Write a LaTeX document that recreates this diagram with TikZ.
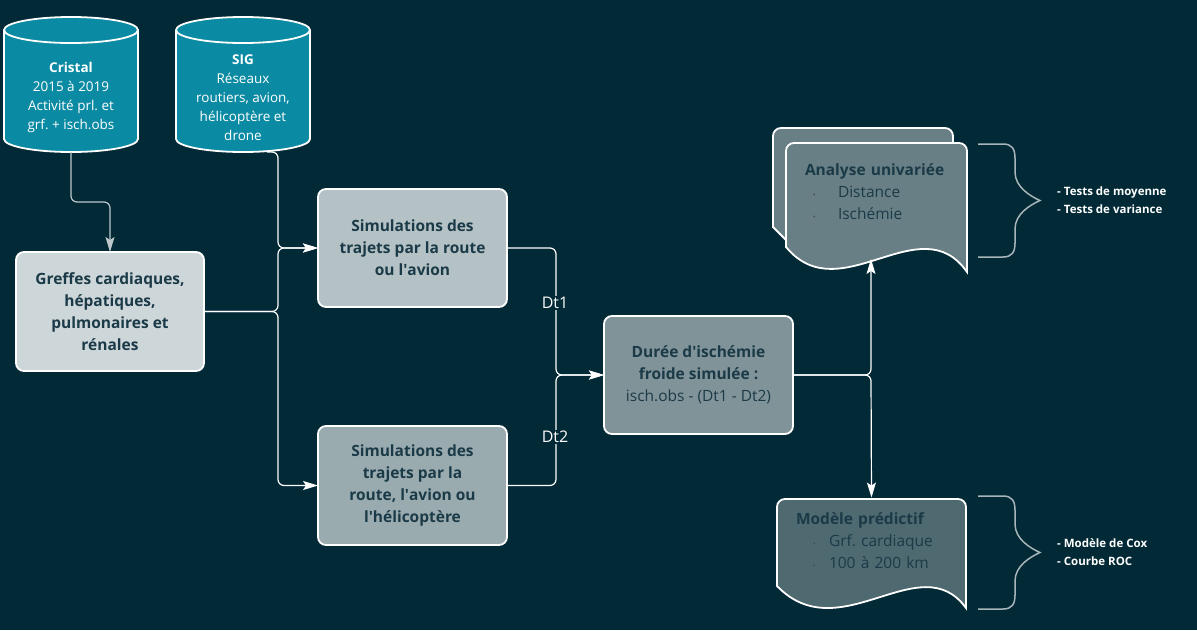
\documentclass[tikz,border=0pt]{standalone}
\usepackage{fontspec}
\setmainfont{Open Sans}
\usetikzlibrary{arrows.meta}
\pgfdeclarelayer{back}
\pgfdeclarelayer{bg}
\pgfsetlayers{back,bg,main}
\frenchspacing
\definecolor{night}{RGB}{2,41,54}
\definecolor{dbteal}{RGB}{11,138,163}
\definecolor{ink}{RGB}{27,58,71}
\definecolor{greffesfill}{RGB}{205,214,217}
\definecolor{simAfill}{RGB}{180,194,198}
\definecolor{simBfill}{RGB}{154,171,176}
\definecolor{dureefill}{RGB}{128,147,153}
\definecolor{analysefill}{RGB}{104,127,133}
\definecolor{modelefill}{RGB}{78,105,112}
\definecolor{bracegrey}{RGB}{168,182,186}
\definecolor{linkgrey}{RGB}{190,200,204}
\definecolor{dotgrey}{RGB}{70,70,70}
\tikzset{every picture/.append style={x=1pt, y=-1pt}}
\tikzset{
    box/.style={rectangle, rounded corners=8pt, draw=white, line width=1.8pt,
    	text=ink, align=center, font=\fontsize{15.5}{22}\selectfont\bfseries,
    	minimum width=189pt, minimum height=118pt, outer sep=0pt},
    dbtext/.style={rectangle, align=center, text=white, outer sep=0pt,
    	font=\fontsize{13.5}{19}\selectfont, minimum width=134pt, minimum height=109pt},
    dbshape/.style={fill=dbteal, draw=white, line width=1.8pt},
    docshape/.style={draw=white, line width=1.8pt},
    doctext/.style={align=left, text=ink, inner xsep=19pt, inner ysep=0pt,
    	outer sep=0pt, font=\fontsize{15.5}{22}\selectfont},
    link/.style={draw=white, line width=1.2pt, rounded corners=6pt,
    	-{Stealth[length=15pt, width=9pt, inset=3pt]}},
    dtlabel/.style={fill=night, text=white, inner sep=1pt,
    	font=\fontsize{16}{18}\selectfont},
    bracelabel/.style={text=white, align=left, anchor=west, inner sep=0pt,
    	font=\fontsize{11.5}{18}\selectfont\bfseries},
    bracepath/.style={draw=bracegrey, line width=1.5pt}
}
\newcommand{\itemdot}{{\fontsize{7}{7}\selectfont\textcolor{dotgrey}{•}}}

\begin{document}
\begin{tikzpicture}
	\begin{pgfonlayer}{back}
		\fill[night] (0,0) rectangle (1197,630);
	\end{pgfonlayer}
	\useasboundingbox (0,0) rectangle (1197,630);

	% sources
	\node (cristal) [dbtext] at (71,97.5) {\textbf{Cristal}\\2015 à 2019\\Activité prl. et\\grf. + isch.obs};
	\node (sig) [dbtext] at (243,97.5) {\textbf{SIG}\\Réseaux\\routiers, avion,\\hélicoptère et\\drone};

	% boxes
	\node (greffes) [box, fill=greffesfill, minimum width=188pt, minimum height=119pt] at (110,311.5) {Greffes cardiaques,\\hépatiques,\\pulmonaires et\\rénales};
	\node (sim1) [box, fill=simAfill] at (412.5,248) {Simulations des\\trajets par la route\\ou l\textquotesingle avion};
	\node (sim2) [box, fill=simBfill, minimum height=119pt] at (412.5,485.5) {Simulations des\\trajets par la\\route, l\textquotesingle avion ou\\l\textquotesingle hélicoptère};
	\node (duree) [box, fill=dureefill] at (698.5,375) {Durée d\textquotesingle ischémie\\froide simulée :\\{\mdseries isch.obs - (Dt1 - Dt2)}};

	% documents
	\node (analyse) [doctext, text width=143pt, minimum height=104pt] at (876.5,192) {{\bfseries Analyse univariée}\\
		\hspace*{8pt}\makebox[25pt][l]{\itemdot}Distance\\
		\hspace*{8pt}\makebox[25pt][l]{\itemdot}Ischémie};
	\node (modele) [doctext, text width=151pt, minimum height=87pt] at (871.5,541) {{\bfseries Modèle prédictif}\\
		\hspace*{17pt}\makebox[16pt][l]{\itemdot}Grf. cardiaque\\
		\hspace*{17pt}\makebox[16pt][l]{\itemdot}100 à 200 km};

	\begin{pgfonlayer}{bg}
		\path[dbshape] ([yshift=13pt]cristal.north west) -- ([yshift=13pt]cristal.south west)
			arc[start angle=180, end angle=360, x radius=67pt, y radius=13pt]
			-- ([yshift=13pt]cristal.north east)
			arc[start angle=0, end angle=180, x radius=67pt, y radius=13pt] -- cycle;
		\draw[dbshape, fill=none] ([yshift=13pt]cristal.north west)
			arc[start angle=180, end angle=360, x radius=67pt, y radius=13pt];
		\path[dbshape] ([yshift=13pt]sig.north west) -- ([yshift=13pt]sig.south west)
			arc[start angle=180, end angle=360, x radius=67pt, y radius=13pt]
			-- ([yshift=13pt]sig.north east)
			arc[start angle=0, end angle=180, x radius=67pt, y radius=13pt] -- cycle;
		\draw[dbshape, fill=none] ([yshift=13pt]sig.north west)
			arc[start angle=180, end angle=360, x radius=67pt, y radius=13pt];

		\path[docshape, fill=analysefill] (786,240) -- (773,227) -- (773,136)
			arc[start angle=180, end angle=90, radius=8pt] -- (945,128)
			arc[start angle=90, end angle=0, radius=8pt] -- (953,170) -- (786,170) -- cycle;
		\path[docshape, fill=analysefill] (786,247) -- (786,151)
			arc[start angle=180, end angle=90, radius=8pt] -- (959,143)
			arc[start angle=90, end angle=0, radius=8pt] -- (967,272)
			.. controls (920,205) and (840,312) .. (786,247) -- cycle;
		\path[docshape, fill=modelefill] (777,586) -- (777,507)
			arc[start angle=180, end angle=90, radius=8pt] -- (958,499)
			arc[start angle=90, end angle=0, radius=8pt] -- (966,608)
			.. controls (920,545) and (840,651) .. (777,586) -- cycle;
	\end{pgfonlayer}

	% connectors
	\coordinate (fork) at ([xshift=74pt]greffes.east);
	\coordinate (merge) at ([xshift=-48pt]duree.west);
	\coordinate (split) at ([xshift=78pt]duree.east);
	\coordinate (aIn) at (871,259);

	\draw[link, draw=linkgrey] (cristal.south) -- ++(0,50) -| (greffes.north);
	\draw[link] ([xshift=24pt]sig.south) -| (fork |- sim1.west) -- (sim1.west);
	\draw[link] (greffes.east) -- (fork) |- (sim1.west);
	\draw[link] (greffes.east) -- (fork) |- (sim2.west);
	\draw[link] (sim1.east) -| (merge) -- (duree.west);
	\draw[link] (sim2.east) -| (merge) -- (duree.west);
	\draw[link] (duree.east) -- (split) -- (aIn);
	\draw[link] (duree.east) -- (split) -- (modele.north);

	\node (dt1) [dtlabel] at (555,303) {Dt1};
	\node (dt2) [dtlabel] at (555,437) {Dt2};

	% braces
	\draw[bracepath] (978,144) -- (1003,144) .. controls (1012,144) and (1015,149) .. (1015,158)
		-- (1015,172) .. controls (1015,187) and (1030,196) .. (1040,200.5)
		.. controls (1030,205) and (1015,214) .. (1015,229) -- (1015,243)
		.. controls (1015,252) and (1012,257) .. (1003,257) -- (978,257);
	\draw[bracepath, shift={(0,352)}] (978,144) -- (1003,144) .. controls (1012,144) and (1015,149) .. (1015,158)
		-- (1015,172) .. controls (1015,187) and (1030,196) .. (1040,200.5)
		.. controls (1030,205) and (1015,214) .. (1015,229) -- (1015,243)
		.. controls (1015,252) and (1012,257) .. (1003,257) -- (978,257);
	\node (tests) [bracelabel] at (1057,200) {- Tests de moyenne\\- Tests de variance};
	\node (cox) [bracelabel] at (1057,552) {- Modèle de Cox\\- Courbe ROC};
\end{tikzpicture}
\end{document}
